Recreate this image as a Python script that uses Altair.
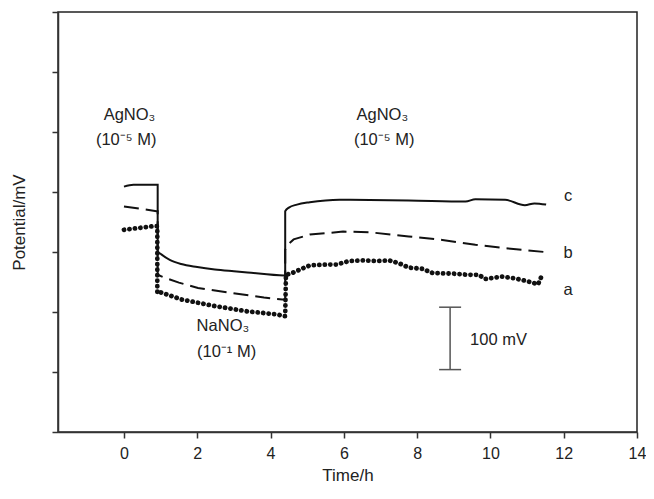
import altair as alt
import pandas as pd

# Series a (dotted), b (dashed), c (solid): time (h) and potential (mV)
a_t = [0, 0.8, 0.91, 0.91, 0.94, 1.56, 2.47, 3.37, 4.18, 4.36, 4.4, 4.42, 4.59, 5.08, 5.53, 5.8, 6.15, 6.52,
       6.88, 7.24, 7.51, 7.78, 8.15, 8.42, 8.96, 9.41, 9.68, 9.86, 10.31, 10.67, 11.03, 11.3, 11.39, 11.48]
a_v = [337, 343, 343, 232, 234, 221, 210, 201, 196, 193, 193, 262, 265, 278, 279, 279, 285, 286,
       285, 286, 281, 274, 272, 265, 264, 262, 262, 255, 259, 256, 251, 246, 259, 257]

b_t = [0, 0.89, 0.92, 0.92, 1.12, 1.5, 2.02, 2.91, 3.82, 4.32, 4.4, 4.4, 4.5, 4.63, 5.07, 5.98, 6.69, 7.77,
       8.69, 9.59, 10.48, 11.48]
b_v = [376, 368, 368, 262, 257, 249, 240, 232, 224, 221, 221, 304, 314, 321, 329, 334, 333, 326,
       320, 312, 306, 300]

c_t = [0, 0.26, 0.89, 0.92, 0.92, 1.02, 1.25, 1.56, 2.0, 2.48, 3.0, 3.37, 4.37, 4.4, 4.4, 4.5, 4.72, 5.07,
       5.5, 5.88, 7.77, 9.32, 9.59, 10.4, 10.94, 11.2, 11.52]
c_v = [409, 412, 412, 412, 301, 296, 287, 280, 275, 271, 268, 266, 261, 261, 368, 374, 379, 383,
       386, 387, 386, 384, 388, 387, 378, 381, 379]

x_ticks = [0, 2, 4, 6, 8, 10, 12, 14]
y_ticks = [0, 100, 200, 300, 400, 500, 600, 700]

# Annotations
ann_text = ["AgNO₃", "(10⁻⁵ M)", "AgNO₃", "(10⁻⁵ M)", "NaNO₃", "(10⁻¹ M)", "c", "b", "a", "100 mV"]
ann_x = [0.15, 0.06, 7.05, 7.1, 2.7, 2.8, 12.12, 12.12, 12.12, 10.22]
ann_y = [528, 487, 528, 487, 176, 134, 394, 298, 236, 154]

# 100 mV scale bar
bar_x = [8.9]
bar_y1 = [104]
bar_y2 = [208]
cap_x1 = [8.6, 8.6]
cap_x2 = [9.2, 9.2]
cap_y = [104, 208]

def series_df(t, v):
    return pd.DataFrame({"t": t, "v": v, "i": list(range(len(t)))})

xs = alt.Scale(domain=[-1.8, 14], nice=False, zero=False)
ys = alt.Scale(domain=[0, 700], nice=False)
X = alt.X("t:Q", scale=xs, axis=alt.Axis(values=x_ticks, title="Time/h", grid=False, labelFlush=False))
Y = alt.Y("v:Q", scale=ys, axis=alt.Axis(values=y_ticks, labels=False, title="Potential/mV", grid=False))

line_c = alt.Chart(series_df(c_t, c_v)).mark_line(color="#111111", strokeWidth=2, interpolate="monotone").encode(
    x=X, y=Y, order="i:Q")
line_b = alt.Chart(series_df(b_t, b_v)).mark_line(color="#111111", strokeWidth=2, strokeDash=[15, 7]).encode(
    x=X, y=Y, order="i:Q")
line_a = alt.Chart(series_df(a_t, a_v)).mark_line(color="#111111", strokeWidth=4.8, strokeDash=[0.1, 5.4],
                                                  strokeCap="round").encode(x=X, y=Y, order="i:Q")

ann = alt.Chart(pd.DataFrame({"t": ann_x, "v": ann_y, "txt": ann_text})).mark_text(
    font="Liberation Sans", fontSize=16.5, color="#222222", align="center", baseline="middle").encode(
    x=alt.X("t:Q", scale=xs), y=alt.Y("v:Q", scale=ys), text="txt:N")

bar = alt.Chart(pd.DataFrame({"t": bar_x, "v": bar_y1, "v2": bar_y2})).mark_rule(
    color="#555555", strokeWidth=1.5).encode(x=alt.X("t:Q", scale=xs), y=alt.Y("v:Q", scale=ys), y2="v2:Q")
caps = alt.Chart(pd.DataFrame({"t": cap_x1, "t2": cap_x2, "v": cap_y})).mark_rule(
    color="#555555", strokeWidth=1.5).encode(x=alt.X("t:Q", scale=xs), x2="t2:Q", y=alt.Y("v:Q", scale=ys))

chart = alt.layer(line_c, line_b, line_a, bar, caps, ann).properties(
    width=579, height=420, autosize=alt.AutoSizeParams(type="none"),
    padding={"left": 50, "top": 4, "right": 9, "bottom": 54},
    background="#ffffff"
).configure_view(stroke="#222222", strokeWidth=1.5).configure_axis(
    domainColor="#333333", domainWidth=1.5, tickColor="#333333", tickWidth=1.5, tickSize=6,
    labelFont="Liberation Sans", labelFontSize=16, labelColor="#222222", labelPadding=7,
    titleFont="Liberation Sans", titleFontSize=17, titleFontWeight="normal", titleColor="#222222"
).configure_axisX(titlePadding=6).configure_axisY(titlePadding=23)

chart.save("out.html", embed_options={"renderer": "svg", "actions": False})
